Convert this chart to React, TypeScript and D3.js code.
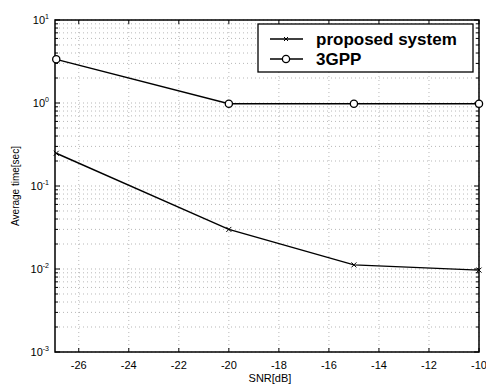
import * as d3 from "d3";
import { useEffect, useRef } from "react";

const snr = [-26.9, -20, -15, -10];
const proposed = [0.248, 0.03, 0.0112, 0.0097];
const gpp = [3.36, 0.98, 0.98, 0.98];
const xTicks = [-26, -24, -22, -20, -18, -16, -14, -12, -10];
const yDecades = [-3, -2, -1, 0, 1];
const legendLabels = ["proposed system", "3GPP"];

export default function App() {
  const ref = useRef<SVGSVGElement>(null);

  useEffect(() => {
    const svg = d3.select(ref.current);
    svg.selectAll("*").remove();

    const width = 486;
    const height = 387;
    const margin = { top: 20, right: 7, bottom: 35, left: 55 };

    const x = d3.scaleLinear().domain([-26.95, -10]).range([margin.left, width - margin.right]);
    const y = d3.scaleLog().domain([1e-3, 10]).range([height - margin.bottom, margin.top]);

    const font = "Liberation Sans, Arial, sans-serif";

    // minor log ticks
    const minor: number[] = [];
    yDecades.slice(0, -1).forEach((e) => {
      for (let k = 1; k < 10; k++) minor.push(k * Math.pow(10, e));
    });
    minor.push(10);

    // grid
    const grid = svg.append("g").attr("stroke", "#999").attr("stroke-width", 0.7).attr("stroke-dasharray", "1,3");
    grid
      .selectAll("line.gx")
      .data(xTicks)
      .enter()
      .append("line")
      .attr("x1", (d) => x(d))
      .attr("x2", (d) => x(d))
      .attr("y1", y(10))
      .attr("y2", y(1e-3));
    grid
      .selectAll("line.gy")
      .data(minor)
      .enter()
      .append("line")
      .attr("x1", x(-26.95))
      .attr("x2", x(-10))
      .attr("y1", (d) => y(d))
      .attr("y2", (d) => y(d));

    // frame
    svg
      .append("rect")
      .attr("x", margin.left)
      .attr("y", margin.top)
      .attr("width", width - margin.left - margin.right)
      .attr("height", height - margin.top - margin.bottom)
      .attr("fill", "none")
      .attr("stroke", "#000")
      .attr("stroke-width", 1.5);

    // ticks
    const ticks = svg.append("g").attr("stroke", "#000").attr("stroke-width", 1);
    xTicks.forEach((t) => {
      ticks.append("line").attr("x1", x(t)).attr("x2", x(t)).attr("y1", y(1e-3)).attr("y2", y(1e-3) - 4);
      ticks.append("line").attr("x1", x(t)).attr("x2", x(t)).attr("y1", y(10)).attr("y2", y(10) + 4);
    });
    minor.forEach((t) => {
      const isMajor = Math.abs(Math.log10(t) - Math.round(Math.log10(t))) < 1e-9;
      const len = isMajor ? 5 : 3;
      ticks.append("line").attr("x1", x(-26.95)).attr("x2", x(-26.95) + len).attr("y1", y(t)).attr("y2", y(t));
      ticks.append("line").attr("x1", x(-10)).attr("x2", x(-10) - len).attr("y1", y(t)).attr("y2", y(t));
    });

    // x tick labels
    svg
      .selectAll("text.xt")
      .data(xTicks)
      .enter()
      .append("text")
      .attr("x", (d) => x(d))
      .attr("y", y(1e-3) + 17)
      .attr("text-anchor", "middle")
      .attr("font-family", font)
      .attr("font-size", 11)
      .text((d) => d);

    // y tick labels 10^n
    yDecades.forEach((e) => {
      const t = svg
        .append("text")
        .attr("x", margin.left - 6)
        .attr("y", y(Math.pow(10, e)) + 4)
        .attr("text-anchor", "end")
        .attr("font-family", font)
        .attr("font-size", 11);
      t.append("tspan").text("10");
      t.append("tspan").attr("dy", -5).attr("font-size", 7).text(e);
    });

    // axis labels
    svg
      .append("text")
      .attr("x", (margin.left + width - margin.right) / 2 + 3)
      .attr("y", height - 5)
      .attr("text-anchor", "middle")
      .attr("font-family", font)
      .attr("font-size", 11)
      .text("SNR[dB]");
    svg
      .append("text")
      .attr("transform", `translate(19,${(margin.top + height - margin.bottom) / 2}) rotate(-90)`)
      .attr("text-anchor", "middle")
      .attr("font-family", font)
      .attr("font-size", 10)
      .text("Average time[sec]");

    const line = d3
      .line<[number, number]>()
      .x((d) => x(d[0]))
      .y((d) => y(d[1]));

    const pData = snr.map((s, i) => [s, proposed[i]] as [number, number]);
    const gData = snr.map((s, i) => [s, gpp[i]] as [number, number]);

    svg.append("path").datum(pData).attr("fill", "none").attr("stroke", "#000").attr("stroke-width", 1.4).attr("d", line);
    svg.append("path").datum(gData).attr("fill", "none").attr("stroke", "#000").attr("stroke-width", 1.4).attr("d", line);

    // x markers
    pData.forEach((d) => {
      const cx = x(d[0]);
      const cy = y(d[1]);
      svg
        .append("path")
        .attr("d", `M${cx - 2.5},${cy - 2.5}L${cx + 2.5},${cy + 2.5}M${cx - 2.5},${cy + 2.5}L${cx + 2.5},${cy - 2.5}`)
        .attr("stroke", "#000")
        .attr("stroke-width", 1);
    });
    svg
      .selectAll("circle.g")
      .data(gData)
      .enter()
      .append("circle")
      .attr("cx", (d) => x(d[0]))
      .attr("cy", (d) => y(d[1]))
      .attr("r", 3.6)
      .attr("fill", "white")
      .attr("stroke", "#000")
      .attr("stroke-width", 1.3);

    // legend
    const lg = svg.append("g").attr("transform", "translate(258,24)");
    lg.append("rect").attr("width", 215).attr("height", 48).attr("fill", "white").attr("stroke", "#000").attr("stroke-width", 1.3);
    legendLabels.forEach((lab, i) => {
      const ly = 15 + i * 20;
      lg.append("line").attr("x1", 12).attr("x2", 45).attr("y1", ly).attr("y2", ly).attr("stroke", "#000").attr("stroke-width", 1.5);
      if (i === 0) {
        lg.append("path")
          .attr("d", `M26,${ly - 2}L30,${ly + 2}M26,${ly + 2}L30,${ly - 2}`)
          .attr("stroke", "#000")
          .attr("stroke-width", 1);
      } else {
        lg.append("circle").attr("cx", 28).attr("cy", ly).attr("r", 3.6).attr("fill", "white").attr("stroke", "#000").attr("stroke-width", 1.3);
      }
      lg.append("text")
        .attr("x", 58)
        .attr("y", ly + 6)
        .attr("font-family", font)
        .attr("font-size", 17)
        .attr("font-weight", "bold")
        .text(lab);
    });
  }, []);

  return (
    <div>
      <svg ref={ref} width={486} height={387} style={{ position: "absolute", left: 0, top: 0, background: "white" }} />
    </div>
  );
}
